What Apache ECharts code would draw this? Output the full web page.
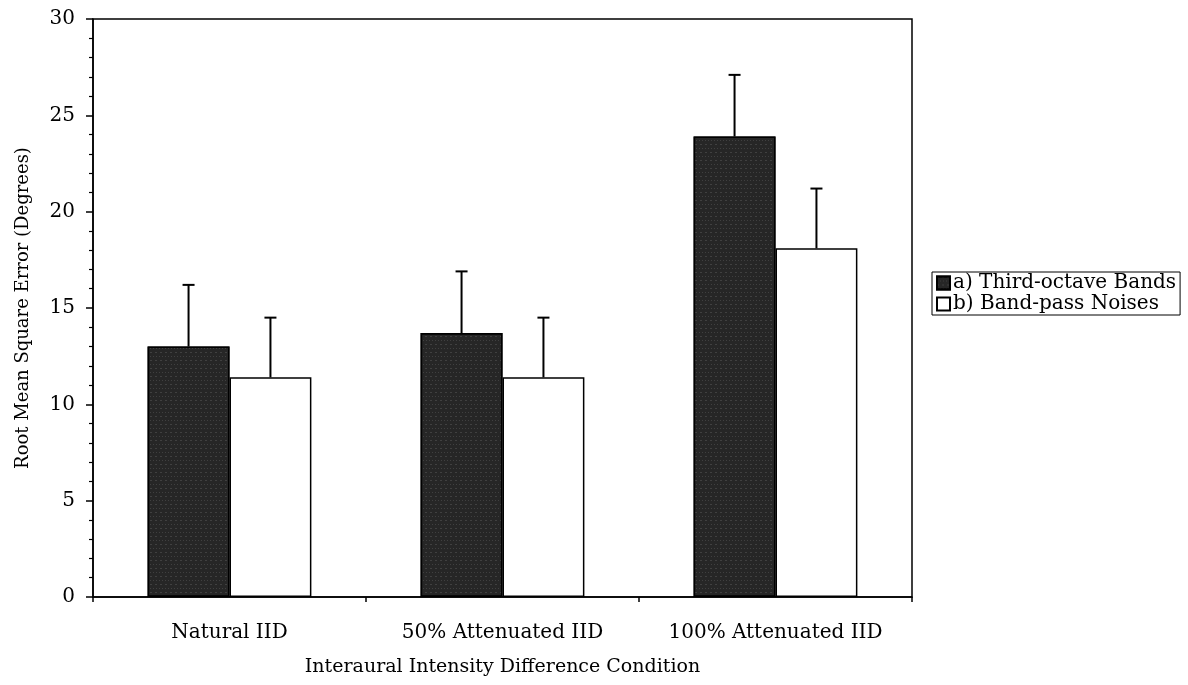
<!DOCTYPE html>
<html>
<head>
<meta charset="utf-8">
<script src="https://cdn.jsdelivr.net/npm/echarts@6/dist/echarts.min.js"></script>
<style>
html,body{margin:0;padding:0;background:#fff;}
#chart{width:1188px;height:685px;}
</style>
</head>
<body>
<div id="chart"></div>
<script>
const categories = ['Natural IID', '50% Attenuated IID', '100% Attenuated IID'];
const seriesNames = ['a) Third-octave Bands', 'b) Band-pass Noises'];
const thirdOctave = [13.0, 13.7, 23.9];
const thirdOctaveErrTop = [16.2, 16.9, 27.1];
const bandPass = [11.4, 11.4, 18.1];
const bandPassErrTop = [14.5, 14.5, 21.2];
const yTicks = [0, 5, 10, 15, 20, 25, 30];

const FONT = 'DejaVu Serif';
const GAP = 0.40;

function errData(vals, tops) {
  return vals.map((v, i) => [i, v, tops[i]]);
}

function makeErr(sIdx) {
  return function (params, api) {
    const ci = api.value(0), v = api.value(1), t = api.value(2);
    const bw = api.size([1, 0])[0];
    const barW = bw * (1 - GAP) / 2;
    const off = sIdx === 0 ? -barW / 2 : barW / 2;
    const p0 = api.coord([ci, v]);
    const p1 = api.coord([ci, t]);
    const x = p0[0] + off;
    const st = { stroke: '#000', lineWidth: 2 };
    return {
      type: 'group',
      children: [
        { type: 'line', shape: { x1: x, y1: p0[1], x2: x, y2: p1[1] }, style: st },
        { type: 'line', shape: { x1: x - 6, y1: p1[1], x2: x + 6, y2: p1[1] }, style: st }
      ]
    };
  };
}

const chart = echarts.init(document.getElementById('chart'), null, { renderer: 'canvas' });
chart.setOption({
  animation: false,
  backgroundColor: '#fff',
  textStyle: { fontFamily: FONT, color: '#000' },
  grid: { left: 93, right: 276, top: 19, bottom: 88, show: true, borderColor: '#000', borderWidth: 1.5 },
  legend: {
    orient: 'vertical',
    left: 932, top: 272,
    data: seriesNames,
    borderColor: '#000', borderWidth: 1,
    padding: [1, 4, 1, 4],
    itemGap: 1,
    itemWidth: 13, itemHeight: 13,
    icon: 'rect',
    textStyle: { fontFamily: FONT, fontSize: 20, color: '#000', lineHeight: 15, padding: [0, 0, 0, -2] }
  },
  xAxis: {
    type: 'category',
    data: categories,
    name: 'Interaural Intensity Difference Condition',
    nameLocation: 'middle',
    nameGap: 61,
    nameTextStyle: { fontFamily: FONT, fontSize: 19, color: '#000' },
    axisLine: { lineStyle: { color: '#000', width: 1.5 } },
    axisTick: { show: true, interval: 0, length: 5, lineStyle: { color: '#000', width: 1.5 } },
    axisLabel: { interval: 0, hideOverlap: false, fontFamily: FONT, fontSize: 20, color: '#000', margin: 26 },
    splitLine: { show: false }
  },
  yAxis: {
    type: 'value',
    min: 0, max: 30, interval: 5,
    name: 'Root Mean Square Error (Degrees)',
    nameLocation: 'middle',
    nameGap: 61,
    nameTextStyle: { fontFamily: FONT, fontSize: 18, color: '#000' },
    axisLine: { show: true, lineStyle: { color: '#000', width: 1.5 } },
    axisTick: { show: true, length: 7, lineStyle: { color: '#000', width: 1.5 } },
    minorTick: { show: true, splitNumber: 5, length: 4, lineStyle: { color: '#000', width: 1.2 } },
    axisLabel: { fontFamily: FONT, fontSize: 20, color: '#000', margin: 18,
      formatter: v => (yTicks.indexOf(v) >= 0 ? String(v) : '') },
    splitLine: { show: false }
  },
  series: [
    {
      name: seriesNames[0], type: 'bar', data: thirdOctave,
      barGap: '0%', barCategoryGap: (GAP * 100) + '%',
      itemStyle: {
        color: '#262626', borderColor: '#000', borderWidth: 1.5,
        decal: { symbol: 'rect', symbolSize: 0.7, color: 'rgba(255,255,255,0.35)', dashArrayX: [[1, 2], [2, 3]], dashArrayY: [1, 3], rotation: 0 }
      }
    },
    {
      name: seriesNames[1], type: 'bar', data: bandPass,
      barGap: '0%', barCategoryGap: (GAP * 100) + '%',
      itemStyle: { color: '#fff', borderColor: '#000', borderWidth: 1.5 }
    },
    {
      type: 'custom', renderItem: makeErr(0), data: errData(thirdOctave, thirdOctaveErrTop),
      encode: { x: 0, y: [1, 2] }, z: 5, silent: true
    },
    {
      type: 'custom', renderItem: makeErr(1), data: errData(bandPass, bandPassErrTop),
      encode: { x: 0, y: [1, 2] }, z: 5, silent: true
    }
  ]
});
</script>
</body>
</html>
